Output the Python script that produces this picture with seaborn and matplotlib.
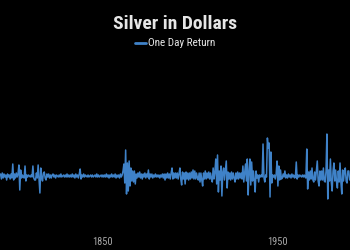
import numpy as np
import pandas as pd
import matplotlib
matplotlib.use("Agg")
import matplotlib.pyplot as plt
import seaborn as sns
from matplotlib import font_manager

# Half-yearly one-day return readings (%), 1792.0 .. 1991.5, ten years per row
returns = [
    2, -3, 3, -2, 2, -1, 1, -4, 2, -1, 1, -3, 2, -2, 12, -4, 2, -2, 3, -1,
    2, 11, -14, 6, -2, 1, -1, -2, 10, -5, 1, -1, 1, 0, -1, 1, -1, 10, -2, -4,
    -4, 3, -2, 11, -3, -17, 8, -2, -5, 3, 4, -2, -4, 2, -1, 2, -2, 1, -2, 1,
    2, -1, 1, -2, 1, 0, -1, 1, -1, 2, -1, 0, 1, -1, 1, -1, 2, -1, 1, -1,
    1, -1, 2, -1, 1, -2, 2, -1, 1, -2, 2, 7, -3, 1, -1, 2, -1, 1, 0, -1,
    1, -1, 0, 1, -1, 1, -1, 0, 1, -1, 2, -1, 1, -1, 0, 1, -1, 1, -1, 1,
    -1, 2, -1, 1, -2, 1, -1, 2, -1, 1, -1, 2, -2, 1, -1, 1, -2, 2, -1, 1,
    5, 12, -7, 26, -18, 13, -15, 15, -10, 8, -5, 5, -6, 5, -8, 2, -2, 3, -1, 4,
    -2, 2, -3, 2, -1, 3, -2, 2, -1, 6, -3, 2, -1, 2, -2, 1, -1, 2, -1, 1,
    -1, 1, -2, 1, -1, 2, -2, 2, -4, 2, -2, 3, -2, 2, -3, 3, 8, -3, 3, -2,
    3, -2, 3, -3, 2, 8, -3, -9, 4, -3, 3, -8, 4, -3, 3, -4, 3, -3, 4, -2,
    6, -3, 5, -3, 3, -2, -4, 3, -6, 3, -4, -10, 3, -3, 5, -3, 3, -2, 4, -3,
    3, -3, -6, 8, -3, 4, 17, -8, 21, -16, 5, -4, 10, -20, 4, 8, -4, 6, 15, -12,
    4, -3, 3, -4, 4, -3, 3, -2, -6, 3, -3, 4, -3, 3, -2, 3, -3, 10, -6, 3,
    12, -5, 17, -19, 4, 17, -9, 14, -5, 5, -4, -16, 5, -2, 1, -6, 1, -1, 1, -1,
    32, -1, -6, 1, -1, 38, 28, 33, -21, 24, -7, 1, -1, 1, -3, 2, 15, -10, 10, -4,
    6, -3, -2, 2, -1, 5, -2, 1, -2, 2, -1, 1, -2, 2, -1, 1, -2, -1, 14, -3,
    1, -1, 1, 0, -1, 1, -1, 1, -1, -2, 27, -13, 4, -4, 5, -3, 8, -4, -6, 4,
    -4, 5, 15, -5, -10, 5, -4, 5, -4, 8, -5, -6, 5, 42, -23, 6, -5, 17, -6, -15,
    5, 13, -5, 6, -6, -12, 5, -6, 13, -6, -18, 6, -5, 5, 8, -5, -7, 5, 5, -4,
]
start_year = 1792.0
step_years = 0.5
years = [start_year + step_years * i for i in range(len(returns))]
tick_years = [1850, 1950]
tick_labels = ["1850", "1950"]
title = "Silver in Dollars"
series_name = "One Day Return"

df = pd.DataFrame({"Year": years, series_name: returns})

sns.set_style("dark")
avail = {f.name for f in font_manager.fontManager.ttflist}
fam = [f for f in ["Liberation Sans Narrow", "Roboto Condensed", "Roboto", "DejaVu Sans"] if f in avail]
plt.rcParams["font.family"] = fam

BG = "#000000"
fig = plt.figure(figsize=(3.5, 2.5), dpi=100, facecolor=BG)
ax = fig.add_axes([0, 0.12, 1, 0.62])
ax.set_facecolor(BG)

sns.lineplot(data=df, x="Year", y=series_name, ax=ax, color="#3f82c8",
             linewidth=1.1, label=series_name)

ax.set_xlim(1791.7, 1991.7)
ax.set_ylim(-44, 111)
ax.set_xticks(tick_years)
ax.set_xticklabels(tick_labels)
ax.set_yticks([])
ax.set_xlabel("")
ax.set_ylabel("")
ax.grid(False)
for s in ax.spines.values():
    s.set_visible(False)
ax.tick_params(axis="x", length=0, pad=12, labelsize=7.5, colors="#a8a8a8")

fig.text(0.5, 0.905, title, ha="center", va="center", color="#e6e6e6",
         fontsize=14, fontweight="bold")
leg = ax.legend(loc="center", bbox_to_anchor=(0.5, 0.826), bbox_transform=fig.transFigure,
                frameon=False, fontsize=8, handlelength=1.0, handletextpad=0.15)
for t in leg.get_texts():
    t.set_color("#e6e6e6")
for l in leg.get_lines():
    l.set_linewidth(2)

fig.savefig("out.png", dpi=100, facecolor=BG)
